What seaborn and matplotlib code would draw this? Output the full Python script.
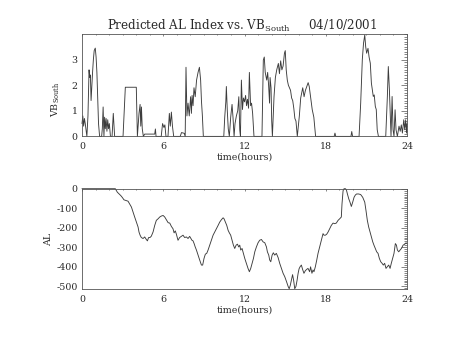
import matplotlib
matplotlib.use("Agg")
import matplotlib.pyplot as plt
import seaborn as sns
import numpy as np
import pandas as pd
from matplotlib.ticker import MultipleLocator

# ---------------- data ----------------
vb_hours = [0.00, 0.06, 0.12, 0.18, 0.24, 0.30, 0.36, 0.44, 0.52, 0.57, 0.62, 0.67, 0.72, 0.78,
            0.84, 0.90, 0.98, 1.04, 1.10, 1.16, 1.22, 1.30, 1.45, 1.50, 1.56, 1.62, 1.67, 1.72,
            1.78, 1.84, 1.90, 1.96, 2.02, 2.10, 2.22, 2.31, 2.41, 3.03, 3.20, 4.01, 4.09, 4.21,
            4.29, 4.34, 4.39, 4.45, 4.53, 4.63, 5.37, 5.42, 5.47, 5.85, 5.95, 6.05, 6.12, 6.20,
            6.35, 6.45, 6.52, 6.60, 6.68, 6.77, 7.25, 7.35, 7.55, 7.62, 7.68, 7.75, 7.83, 7.92,
            8.02, 8.08, 8.13, 8.20, 8.27, 8.36, 8.46, 8.57, 8.67, 8.76, 8.82, 8.89, 8.96, 10.47,
            10.54, 10.62, 10.66, 10.73, 10.80, 10.88, 10.98, 11.08, 11.15, 11.23, 11.30, 11.40,
            11.50, 11.58, 11.65, 11.70, 11.77, 11.85, 11.92, 12.00, 12.08, 12.15, 12.22, 12.30,
            12.36, 12.45, 12.52, 12.60, 12.70, 13.29, 13.39, 13.46, 13.53, 13.64, 13.71, 13.78,
            13.85, 13.89, 13.96, 14.01, 14.06, 14.18, 14.28, 14.38, 14.50, 14.58, 14.67, 14.76,
            14.85, 14.95, 15.01, 15.08, 15.16, 15.24, 15.32, 15.40, 15.48, 15.56, 15.64, 15.72,
            15.80, 15.90, 16.05, 16.15, 16.30, 16.40, 16.50, 16.60, 16.70, 16.78, 16.88, 17.00,
            17.12, 17.25, 18.62, 18.68, 18.74, 19.86, 19.92, 19.98, 20.46, 20.58, 20.70, 20.79,
            20.88, 20.95, 21.02, 21.12, 21.20, 21.29, 21.37, 21.44, 21.51, 21.58, 21.66, 21.73,
            21.80, 21.89, 22.43, 22.55, 22.62, 22.70, 22.77, 22.82, 22.90, 22.97, 23.04, 23.12,
            23.19, 23.29, 23.41, 23.50, 23.58, 23.66, 23.76, 23.83, 23.90, 23.97, 24.00]
vb_south = [0.5, 0.8, 0.4, 0.7, 0.5, 0.25, 0.0, 0.8, 2.6, 2.3, 2.4, 1.4, 1.9, 2.5,
            3.0, 3.35, 3.45, 3.1, 2.5, 1.5, 0.5, 0.0, 0.0, 0.3, 1.15, 0.0, 0.75, 0.3,
            0.7, 0.2, 0.65, 0.3, 0.5, 0.0, 0.0, 0.9, 0.0, 0.0, 1.92, 1.92, 0.0, 0.9,
            1.25, 0.4, 1.15, 0.3, 0.0, 0.09, 0.09, 0.29, 0.0, 0.0, 0.5, 0.35, 0.45, 0.0,
            0.0, 0.9, 0.4, 0.95, 0.4, 0.0, 0.0, 0.15, 0.12, 0.0, 2.7, 0.8, 1.3, 0.8,
            1.55, 0.9, 1.6, 1.2, 1.9, 1.55, 2.2, 2.5, 2.7, 2.2, 1.4, 0.8, 0.0, 0.0,
            0.75, 1.35, 1.95, 1.0, 0.3, 0.0, 0.75, 1.25, 0.75, 0.0, 0.5, 0.8,
            1.0, 1.55, 0.25, 0.0, 2.2, 1.05, 1.5, 1.35, 1.6, 1.2, 1.45, 1.1,
            2.5, 1.2, 1.3, 0.9, 0.0, 0.0, 2.98, 3.1, 2.5, 2.2, 2.5, 2.0,
            1.3, 2.3, 1.9, 0.6, 0.0, 1.55, 2.3, 2.6, 2.85, 2.45, 2.95, 2.6,
            2.75, 3.25, 3.35, 2.6, 2.2, 2.0, 1.9, 1.8, 1.5, 1.4, 1.1, 0.7,
            0.6, 0.0, 0.8, 1.5, 1.9, 1.55, 1.8, 1.95, 2.1, 1.95, 1.55, 1.05,
            0.75, 0.0, 0.0, 0.13, 0.0, 0.0, 0.19, 0.0, 0.0, 1.3, 3.0, 3.64,
            3.96, 3.5, 3.25, 3.44, 3.1, 2.86, 2.08, 1.82, 1.56, 1.62, 1.17, 1.05,
            0.26, 0.0, 0.0, 1.56, 2.73, 1.82, 0.78, 0.0, 1.56, 0.26, 0.0, 1.04,
            0.26, 0.0, 0.4, 0.2, 0.45, 0.13, 0.65, 0.26, 0.65, 0.13, 0.5]

al_hours = [0.0, 2.46, 2.61, 2.74, 2.86, 2.98, 3.10, 3.27, 3.40, 3.52, 3.65, 3.77, 3.89, 4.02,
            4.14, 4.21, 4.29, 4.38, 4.51, 4.63, 4.75, 4.83, 4.92, 5.02, 5.12, 5.25, 5.37, 5.49,
            5.62, 5.74, 5.86, 5.99, 6.11, 6.23, 6.36, 6.48, 6.60, 6.72, 6.80, 6.89, 6.97, 7.09,
            7.21, 7.34, 7.46, 7.58, 7.71, 7.83, 7.95, 8.12, 8.20, 8.28, 8.36, 8.45, 8.57, 8.69,
            8.82, 8.91, 9.01, 9.11, 9.21, 9.31, 9.43, 9.55, 9.68, 9.80, 9.92, 10.05, 10.17, 10.29,
            10.42, 10.49, 10.59, 10.69, 10.79, 10.88, 10.98, 11.08, 11.18, 11.28, 11.38, 11.48,
            11.57, 11.65, 11.72, 11.82, 11.92, 12.02, 12.14, 12.26, 12.36, 12.46, 12.56, 12.66,
            12.76, 12.88, 13.00, 13.12, 13.25, 13.37, 13.50, 13.62, 13.69, 13.79, 13.86, 13.94,
            14.04, 14.13, 14.23, 14.35, 14.48, 14.60, 14.73, 14.85, 14.97, 15.10, 15.22, 15.30,
            15.38, 15.47, 15.55, 15.63, 15.71, 15.80, 15.88, 15.96, 16.03, 16.10, 16.20, 16.29,
            16.39, 16.49, 16.59, 16.69, 16.81, 16.88, 16.98, 17.06, 17.13, 17.23, 17.33, 17.43,
            17.55, 17.67, 17.80, 17.87, 17.97, 18.07, 18.17, 18.29, 18.41, 18.54, 18.66, 18.78,
            18.91, 19.03, 19.15, 19.20, 19.28, 19.35, 19.45, 19.52, 19.60, 19.70, 19.79, 19.89,
            19.99, 20.09, 20.19, 20.28, 20.43, 20.58, 20.73, 20.88, 20.97, 21.07, 21.17, 21.27,
            21.37, 21.47, 21.56, 21.66, 21.76, 21.86, 21.96, 22.06, 22.16, 22.25, 22.35, 22.45,
            22.55, 22.65, 22.75, 22.84, 22.94, 23.04, 23.14, 23.22, 23.29, 23.39, 23.49, 23.59,
            23.71, 23.83, 23.93, 24.00]
al_index = [0, 0, -18, -27, -35, -45, -57, -61, -64, -78, -94, -120, -145, -171,
            -196, -222, -238, -250, -255, -247, -260, -267, -250, -250, -243, -221, -188, -162,
            -154, -145, -140, -137, -145, -159, -174, -176, -193, -205, -226, -216, -233, -264,
            -250, -244, -238, -250, -247, -255, -244, -264, -267, -281, -298, -314, -340, -365,
            -391, -391, -357, -335, -331, -314, -289, -264, -238, -222, -205, -188, -171, -159,
            -149, -154, -171, -188, -213, -226, -238, -264, -289, -306, -289, -284,
            -298, -289, -314, -306, -331, -357, -382, -408, -425, -408, -382, -357,
            -323, -298, -277, -264, -260, -272, -277, -298, -323, -340, -365, -374,
            -340, -328, -340, -331, -352, -382, -408, -433, -450, -475, -500, -512,
            -495, -467, -440, -470, -512, -500, -470, -433, -410, -400, -391, -413,
            -433, -420, -413, -408, -425, -400, -433, -416, -425, -400, -367, -331,
            -298, -264, -230, -238, -238, -233, -222, -205, -188, -176, -179, -176,
            -162, -154, -145, -78, -10, 0, 0, -5, -27, -52, -69, -91,
            -69, -44, -32, -27, -27, -30, -44, -69, -111, -162, -196, -221,
            -247, -272, -289, -306, -323, -331, -357, -374, -382, -391, -382, -408,
            -399, -391, -408, -382, -357, -331, -281, -289, -314, -323, -314, -306,
            -289, -284, -277, -281]

x_ticks = [0, 6, 12, 18, 24]
vb_ticks = [0, 1, 2, 3]
al_ticks = [0, -100, -200, -300, -400, -500]

df_vb = pd.DataFrame({"hours": vb_hours, "vb": vb_south})
df_al = pd.DataFrame({"hours": al_hours, "al": al_index})

# ---------------- style ----------------
sns.set_theme(style="white")
plt.rcParams["font.family"] = ["DejaVu Serif"]
plt.rcParams["mathtext.fontset"] = "dejavuserif"
plt.rcParams["axes.unicode_minus"] = False

ink = "#2a2a2a"
line_c = "#3c3c3c"
fs = 6.8

fig = plt.figure(figsize=(4.54, 3.41), dpi=100)
fig.patch.set_facecolor("white")

ax1 = fig.add_axes([82 / 454, 1 - 136.4 / 341, 325 / 454, 102.4 / 341])
ax2 = fig.add_axes([82 / 454, 1 - 289.3 / 341, 325 / 454, 100.6 / 341])

sns.lineplot(data=df_vb, x="hours", y="vb", ax=ax1, color=line_c, lw=0.65,
             estimator=None, sort=False)
sns.lineplot(data=df_al, x="hours", y="al", ax=ax2, color=line_c, lw=0.65,
             estimator=None, sort=False)
for ln in ax1.lines + ax2.lines:
    ln.set_clip_on(False)

ax1.set_xlim(0, 24)
ax1.set_ylim(0, 4.0)
ax2.set_xlim(0, 24)
ax2.set_ylim(-515, 0)

for ax in (ax1, ax2):
    ax.set_facecolor("white")
    ax.set_xticks(x_ticks)
    ax.xaxis.set_minor_locator(MultipleLocator(1))
    for s in ax.spines.values():
        s.set_visible(True)
        s.set_linewidth(0.6)
        s.set_color("#555555")
    ax.tick_params(axis="both", which="both", direction="in", top=True, right=True,
                   colors="#555555", labelcolor=ink, labelsize=fs, width=0.5)
    ax.tick_params(axis="x", which="major", length=1.6, pad=4)
    ax.tick_params(axis="x", which="minor", length=0.9)
    ax.tick_params(axis="y", which="major", length=4.6, pad=3)
    ax.tick_params(axis="y", which="minor", length=2.3)
    ax.set_xlabel("time(hours)", fontsize=fs, color=ink, labelpad=1)
    ax.grid(False)

ax1.set_yticks(vb_ticks)
ax1.yaxis.set_minor_locator(MultipleLocator(0.1))
ax2.set_yticks(al_ticks)
ax2.yaxis.set_minor_locator(MultipleLocator(10))

ax1.set_ylabel(r"VB$_{\mathrm{South}}$", fontsize=fs, color=ink)
ax1.yaxis.set_label_coords(-0.06, 0.36)
ax2.set_ylabel("AL", fontsize=fs, color=ink)
ax2.yaxis.set_label_coords(-0.088, 0.5)

fig.text(0.533, 1 - 30 / 341, r"Predicted AL Index vs. VB$_{\mathrm{South}}$     04/10/2001",
         ha="center", va="baseline", fontsize=8.6, color=ink)

fig.savefig("out.png", dpi=100, facecolor="white")
